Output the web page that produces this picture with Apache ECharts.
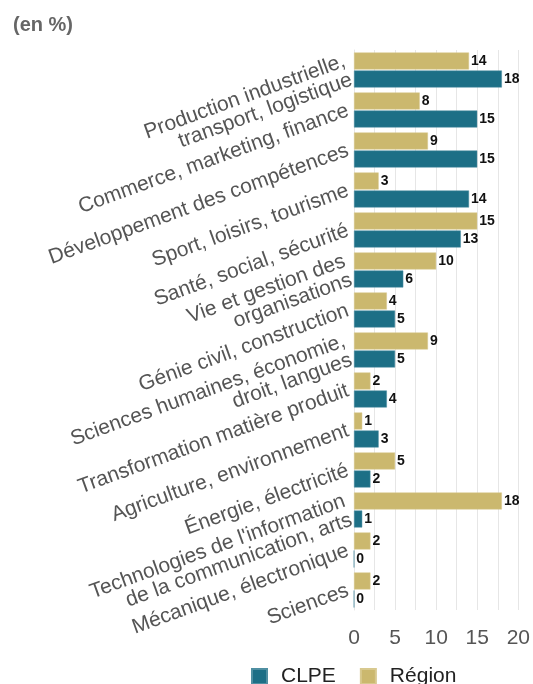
<!DOCTYPE html>
<html><head><meta charset="utf-8">
<script src="https://cdn.jsdelivr.net/npm/echarts@6/dist/echarts.min.js"></script>
<style>html,body{margin:0;padding:0;background:#fff}#c{width:533px;height:684px}</style>
</head><body><div id="c"></div>
<script>
const categories = [
  "Production industrielle,\ntransport, logistique",
  "Commerce, marketing, finance",
  "Développement des compétences",
  "Sport, loisirs, tourisme",
  "Santé, social, sécurité",
  "Vie et gestion des\norganisations",
  "Génie civil, construction",
  "Sciences humaines, économie,\ndroit, langues",
  "Transformation matière produit",
  "Agriculture, environnement",
  "Énergie, électricité",
  "Technologies de l'information\nde la communication, arts",
  "Mécanique, électronique",
  "Sciences"
];
const clpe   = [18, 15, 15, 14, 13, 6, 5, 5, 4, 3, 2, 1, 0, 0];
const region = [14, 8, 9, 3, 15, 10, 4, 9, 2, 1, 5, 18, 2, 2];
const xTicks = [0, 5, 10, 15, 20];

const font = "'Liberation Sans', Arial, sans-serif";
const chart = echarts.init(document.getElementById('c'), null, {renderer: 'canvas'});
const labelStyle = {show: true, position: 'right', distance: 2, color: '#111', fontWeight: 'bold', fontSize: 14, fontFamily: font};
chart.setOption({
  animation: false,
  title: {text: '(en %)', left: 8, top: 10, textStyle: {fontSize: 20, fontWeight: 'bold', color: '#666', fontFamily: font}},
  legend: {
    top: 661, left: 246, itemWidth: 15, itemHeight: 15, itemGap: 24,
    icon: 'rect',
    textStyle: {fontSize: 21, color: '#222', fontFamily: font, padding: [0, 0, 0, 9]},
    data: ['CLPE', 'Région']
  },
  grid: {left: 354, right: 13, top: 50, bottom: 74, containLabel: false},
  xAxis: {
    type: 'value', min: 0, max: 20, interval: 2.5,
    axisLine: {show: false}, axisTick: {show: false},
    splitLine: {show: true, lineStyle: {color: '#e6e6e6', width: 1}},
    axisLabel: {
      fontSize: 21, color: '#555', fontFamily: font, margin: 18,
      formatter: v => xTicks.includes(v) ? String(v) : ''
    }
  },
  yAxis: {
    type: 'category', data: categories, inverse: true,
    axisLine: {show: true, lineStyle: {color: '#e6e6e6'}}, axisTick: {show: false},
    axisLabel: {rotate: 20, fontSize: 21, color: '#555', fontFamily: font, margin: 6, lineHeight: 20, interval: 0}
  },
  series: [
    {name: 'Région', type: 'bar', data: region, barWidth: 17, barGap: '6%',
     itemStyle: {color: '#cbb86e', borderColor: '#d8c98f', borderWidth: 0.5}, label: labelStyle},
    {name: 'CLPE', type: 'bar', data: clpe, barWidth: 17, barGap: '6%',
     itemStyle: {color: '#1d6f86', borderColor: '#4f8fa2', borderWidth: 0.5}, label: labelStyle}
  ]
});
</script></body></html>
